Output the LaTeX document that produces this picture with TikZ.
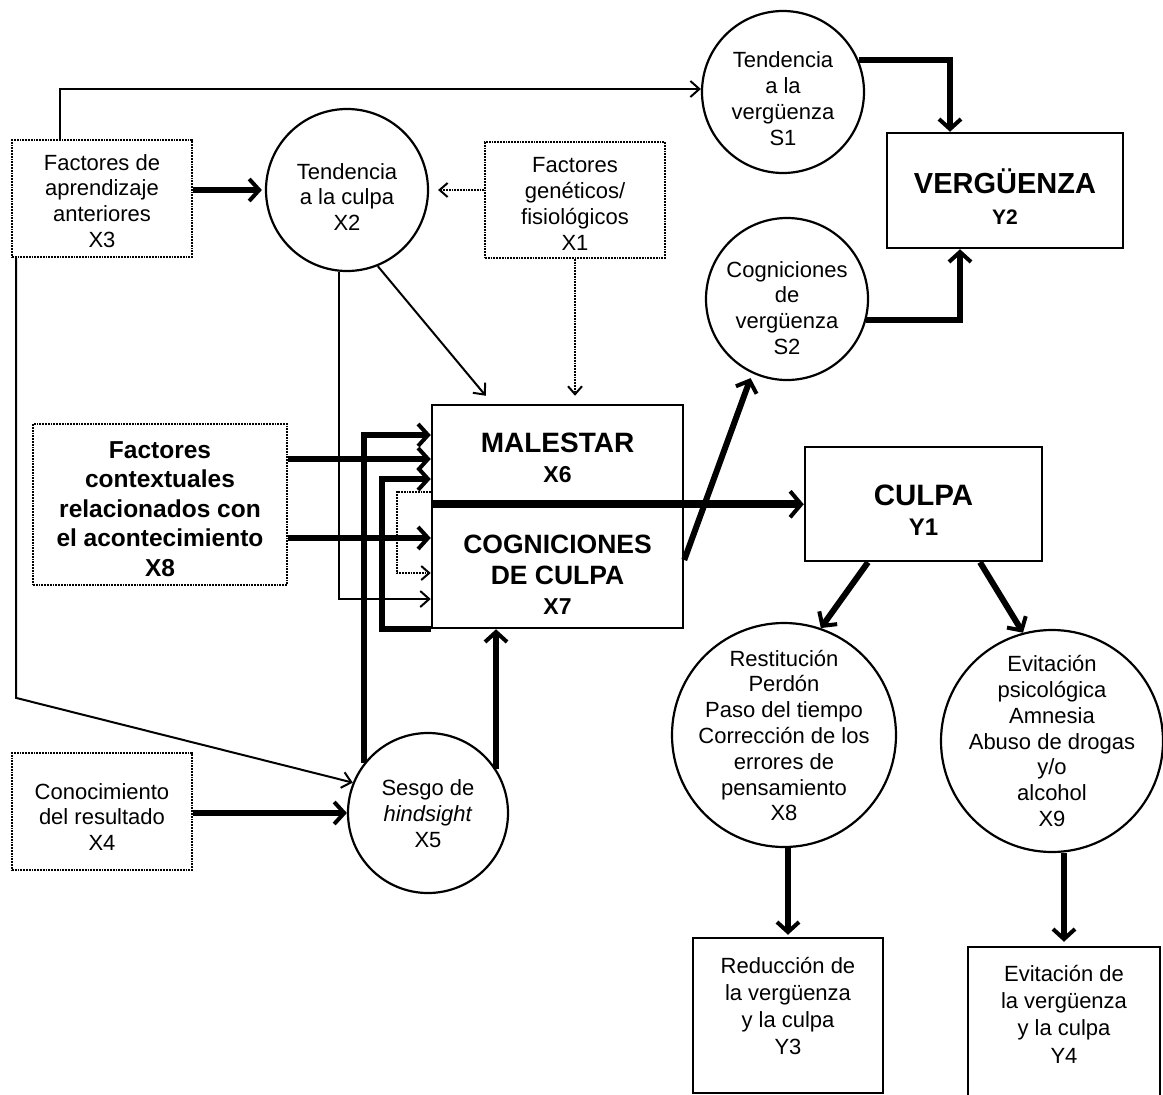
\documentclass[tikz,border=0pt]{standalone}
\usepackage{fontspec}
\setmainfont{Liberation Sans}
\usetikzlibrary{arrows.meta,calc}

\newcommand\sizefont[2]{\fontsize{#1pt}{#2pt}\selectfont}

\begin{document}
\begin{tikzpicture}[x=1pt,y=-1pt,
  box/.style={draw, line width=2.5pt, rectangle, inner sep=0pt},
  dotbox/.style={draw, line width=1.8pt, densely dotted, rectangle, inner sep=0pt},
  ring/.style={draw, line width=2.2pt, circle, inner sep=0pt},
  txt/.style={align=center, inner sep=0pt, font=\sizefont{22}{25.8}},
  boldtxt/.style={align=center, inner sep=0pt, font=\sizefont{24.5}{29.5}\bfseries},
  lightarrow/.style={line width=2pt, -{Straight Barb[length=9pt,width=16pt]}},
  heavyarrow/.style={line width=6pt, -{Straight Barb[length=10pt,width=22pt,line width=4pt]}},
  mainarrow/.style={line width=8pt, -{Straight Barb[length=11pt,width=26pt,line width=4pt]}},
  dotarrow/.style={line width=1.8pt, densely dotted, -{Straight Barb[length=8pt,width=14pt,line width=2pt]}},
]
\useasboundingbox (0,0) rectangle (1163,1095);
\fill[white] (0,0) rectangle (1163,1095);
\clip (0,0) rectangle (1163,1095);

% ---- shapes ----
\node[dotbox, minimum width=180pt, minimum height=117pt] (x3) at (102,198.5) {};
\node[ring, minimum size=162pt] (x2) at (347,190) {};
\node[dotbox, minimum width=180pt, minimum height=116pt] (x1) at (575,200) {};
\node[ring, minimum size=162pt] (s1) at (783,92) {};
\node[box, minimum width=236pt, minimum height=115pt] (y2) at (1005,190.5) {};
\node[ring, minimum size=162pt] (s2) at (787,299) {};
\node[box, minimum width=251pt, minimum height=98pt] (x6) at (557.5,454) {};
\node[box, minimum width=251pt, minimum height=125pt] (x7) at (557.5,565.5) {};
\node[box, minimum width=237pt, minimum height=114pt] (y1) at (923.5,504) {};
\node[dotbox, minimum width=254pt, minimum height=161pt] (x8b) at (160,504.5) {};
\node[dotbox, minimum width=180pt, minimum height=117pt] (x4) at (102,811.5) {};
\node[ring, minimum size=160pt] (x5) at (428,813) {};
\node[ring, minimum size=224pt] (x8c) at (784,735) {};
\node[ring, minimum size=222pt] (x9) at (1052,741) {};
\node[box, minimum width=190pt, minimum height=155pt] (y3) at (788,1015.5) {};
\node[box, minimum width=192pt, minimum height=160pt] (y4) at (1064,1027) {};

% ---- texts ----
\node[txt] (x3t) at (102,201) {Factores de\\aprendizaje\\anteriores\\X3};
\node[txt] (x2t) at (347,197) {Tendencia\\a la culpa\\X2};
\node[txt] (x1t) at (575,204) {Factores\\genéticos/\\fisiológicos\\X1};
\node[txt] (s1t) at (783,98.5) {Tendencia\\a la\\vergüenza\\S1};
\node[txt] (s2t) at (787,308) {Cogniciones\\de\\vergüenza\\S2};
\node[align=center, inner sep=0pt, font=\sizefont{29}{31}\bfseries] (y2t) at (1005,197)
  {VERGÜENZA\\{\sizefont{21}{31}Y2}};
\node[align=center, inner sep=0pt, font=\sizefont{28}{30}\bfseries] (x6t) at (557.5,458)
  {MALESTAR\\{\sizefont{23}{30}X6}};
\node[align=center, inner sep=0pt, font=\sizefont{26.5}{30.5}\bfseries] (x7t) at (557.5,575)
  {COGNICIONES\\DE CULPA\\{\sizefont{23}{30}X7}};
\node[align=center, inner sep=0pt, font=\sizefont{29.5}{30.5}\bfseries] (y1t) at (923.5,510)
  {CULPA\\{\sizefont{24}{30}Y1}};
\node[boldtxt] (x8bt) at (160,509) {Factores\\contextuales\\relacionados con\\el acontecimiento\\X8};
\node[txt] (x4t) at (102,817) {Conocimiento\\del resultado\\X4};
\node[txt] (x5t) at (428,813.5) {Sesgo de\\\textit{hindsight}\\X5};
\node[txt] (x8ct) at (784,735.5) {Restitución\\Perdón\\Paso del tiempo\\Corrección de los\\errores de\\pensamiento\\X8};
\node[txt] (x9t) at (1052,741) {Evitación\\psicológica\\Amnesia\\Abuso de drogas\\y/o\\alcohol\\X9};
\node[txt, font=\sizefont{22}{27.3}] (y3t) at (788,1006) {Reducción de\\la vergüenza\\y la culpa\\Y3};
\node[txt, font=\sizefont{22}{27.3}] (y4t) at (1064,1014) {Evitación de\\la vergüenza\\y la culpa\\Y4};

% ---- entry points on the left side of the central boxes ----
\coordinate (in1) at ([yshift=19pt]x6.west);
\coordinate (in2) at ([yshift=-5pt]x6.west);
\coordinate (in3) at ([yshift=-25pt]x6.west);
\coordinate (out6) at ([yshift=-38pt]x6.west);
\coordinate (in4) at ([yshift=27.5pt]x7.west);
\coordinate (in5) at ([yshift=-7.5pt]x7.west);
\coordinate (in6) at ([yshift=-33.5pt]x7.west);

% ---- connectors ----
% learning factors
\draw[lightarrow] ([xshift=-42pt]x3.north) |- ([yshift=3pt]s1.west);
\draw[heavyarrow, shorten >=3pt] (x3.east |- x2.west) -- (x2.west);
\draw[lightarrow] ([xshift=5pt]x3.south west) -- ++(0,440) -- (x5.158);
% genetic factors
\draw[dotarrow, shorten >=9pt] (x1.west |- x2.east) -- (x2.east);
\draw[dotarrow, shorten >=8pt] (x1.south) -- (x1.south |- x6.north);
% guilt tendency
\draw[lightarrow] (x2.-68) -- ([xshift=55pt,yshift=8pt]x6.north west);
\draw[lightarrow] ([xshift=-8pt]x2.south) |- (in6);
% contextual factors
\draw[heavyarrow] (x8b.east |- in2) -- (in2);
\draw[heavyarrow] (x8b.east |- in4) -- (in4);
% hindsight bias
\draw[heavyarrow] (x5.142) |- (in1);
\draw[heavyarrow] (x5.33) -- (x5.33 |- x7.south);
\draw[heavyarrow] (x4.east |- x5.west) -- (x5.west);
% feedback between distress and guilt cognitions
\draw[heavyarrow] (x7.south west) -- ++(-49,0) |- (in3);
\draw[dotarrow] (out6) -- ++(-34,0) |- (in5);
% towards guilt and shame
\draw[mainarrow] (x6.south west) -- (x6.south west -| y1.west);
\draw[heavyarrow, shorten >=5pt] ([yshift=5.5pt]x7.east) -- (s2.-115);
\draw[heavyarrow] (s1.23) -| ([xshift=-55pt]y2.north);
\draw[heavyarrow] (s2.-15) -| ([xshift=-45pt]y2.south);
% consequences of guilt
\draw[heavyarrow] ([xshift=-55.5pt]y1.south) -- (x8c.71);
\draw[heavyarrow] ([xshift=56.5pt]y1.south) -- (x9.105);
\draw[heavyarrow, shorten >=2pt] (y3.north |- x8c.south) -- (y3.north);
\draw[heavyarrow, shorten >=4pt] (y4.north |- x9.south) -- (y4.north);
\end{tikzpicture}
\end{document}
